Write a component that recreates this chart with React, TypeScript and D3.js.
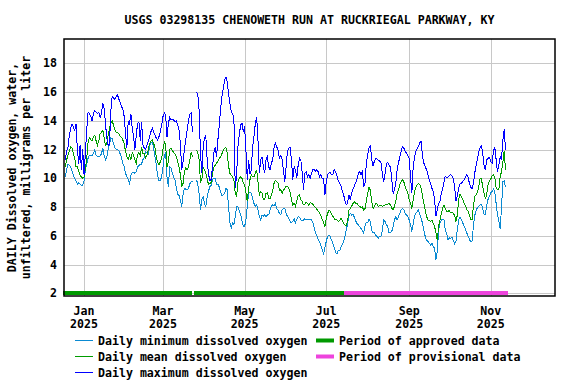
import React, { useEffect, useRef } from 'react';
import * as d3 from 'd3';

// Labels
const title = 'USGS 03298135 CHENOWETH RUN AT RUCKRIEGAL PARKWAY, KY';
const yTitle = ['DAILY Dissolved oxygen, water,', 'unfiltered, milligrams per liter'];

// Daily values, one per day starting at firstDay (null = no data)
const firstDay = '2024-12-18';

const dailyMin = [
  // Dec
  10.1, 10.6, 11.0, 10.9, 10.8, 10.5, 10.2, 10.0, 9.8, 9.6, 9.7, 9.6, 9.5, 9.5,
  // Jan
  9.85, 10.6, 11.0, 11.4, 11.6, 11.6, 11.6, 11.7, 12.0, 11.6, 11.5, 11.5, 11.55,
  11.7, 12.1, 11.55, 11.3, 11.5, 12.0, 12.4, 12.8, 12.75, 12.4, 12.15, 12.0, 12.0, 11.9, 11.7, 11.45, 11.0, 10.8,
  // Feb
  10.35, 10.1, 9.9, 9.65, 10.2, 10.4, 10.4, 10.35, 10.45, 10.8, 10.9, 10.95,
  11.0, 11.3, 11.45, 11.85, 11.8, 11.7, 12.2, 12.5, 12.5, 12.1, 11.5, 10.9, 10.2, 9.8, 9.85, 10.1,
  // Mar
  10.8, 11.6, 11.75, 10.1, 9.4, 10.8, 10.7, 10.35, 10.1, 9.85, 9.3, 8.9, 8.8, 8.5, 8.0, 8.85, 9.3, 9.25, 9.2, 9.3, 9.6, 9.75, 9.8,
  null, null,
  9.9, 9.6, 8.95, 7.8, 8.5, 8.75,
  // Apr
  8.25, 8.0, 8.7, 9.1, 9.4, 9.5, 9.9, 10.0, 10.0,
  9.55, 9.6, 9.4, 9.05, 8.8, 8.85, 8.95, 9.3, 9.2, 8.05, 6.9, 6.55, 6.9, 6.75, 7.35, 8.05, 8.05, 7.7, 7.5, 7.05, 6.65,
  // May
  6.65, 7.1, 8.05, 8.95, 9.05, 8.95, 8.6, 8.25, 8.05, 8.15, 7.8, 7.35, 7.1, 7.45, 7.35, 7.45, 7.35, 7.45, 7.45, 7.8,
  8.05, 8.15, 8.05, 8.25, 7.9, 7.8, 7.55, 7.45, 7.8, 7.9, 7.9,
  // Jun
  7.55, 7.35, 7.2, 7.0, 6.9,
  7.0, 7.2, 6.9, 7.15, 7.35, 7.3, 7.1, 7.05, 7.1, 7.2, 7.1, 7.1, 7.15, 7.1, 7.1, 6.9, 6.6, 6.2, 6.0, 5.75, 5.6, 5.3, 5.05, 4.7, 5.15,
  // Jul
  5.6, 5.95, 6.05, 5.95, 5.7, 5.45, 5.2, 4.85, 4.75, 5.0, 4.95, 5.2, 5.4, 5.6, 5.95, 6.4, 6.85, 7.4, 7.55, 7.45,
  7.5, 7.3, 7.05, 6.85, 6.75, 6.65, 6.5, 6.35, 6.2, 6.7, 6.95,
  // Aug
  6.9,
  7.15, 7.0, 6.4, 6.2, 6.2, 6.05, 5.95, 5.85, 5.95, 6.0, 6.4, 7.1, 7.0, 6.75, 6.65, 6.2, 6.2, 6.3, 6.65, 7.1,
  7.35, 7.1, 7.35, 7.55, 7.8, 7.9, 7.8, 7.55, 7.45, 7.35,
  // Sep
  7.1, 6.75, 6.3, 6.85, 7.35, 7.55, 7.7, 7.8, 7.45, 7.2, 6.85, 6.4, 5.95, 5.7, 5.6, 5.5, 5.35, 5.5, 5.25, 5.15,
  4.35, 4.9, 6.4, 6.85, 7.1, 7.15, 7.15, 6.35, 6.15, 5.7,
  // Oct
  5.85, 5.8, 5.9, 5.65, 5.45, 5.6, 6.45, 7.1, 7.3, 7.15, 6.9, 6.7, 6.45, 6.2, 6.0, 5.75, 5.6, 5.65, 6.65, 7.4,
  7.75, 7.95, 8.05, 8.15, 8.2, 7.85, 7.5, 7.5, 8.15, 8.55, 8.75,
  // Nov
  9.0, 9.1, 9.25, 9.05, 8.25, 7.5, 7.05, 6.5, 7.9, 9.75, 9.8, 9.4,
];

const dailyMean = [
  // Dec
  10.8, 11.3, 11.6, 11.9, 12.2, 12.1, 11.7, 11.4, 10.8, 10.8, 10.5, 10.2, 10.1, 10.0,
  // Jan
  10.1, 10.7, 11.4, 12.5, 12.8, 12.7, 12.6, 12.9, 13.0, 12.6, 12.3, 12.6, 13.1,
  13.2, 13.35, 12.8, 12.3, 12.4, 13.0, 13.5, 13.8, 14.0, 13.7, 13.4, 13.2, 13.2, 13.1, 12.9, 12.85, 12.65, 12.4,
  // Feb
  11.85, 11.5, 11.3, 11.6, 11.3, 11.8, 11.6, 11.3, 11.05, 11.65, 11.8, 11.6,
  12.15, 11.7, 11.7, 11.4, 11.6, 12.0, 12.4, 12.6, 12.65, 12.45, 12.1, 11.5, 11.1, 10.9, 11.15, 11.4,
  // Mar
  12.0, 12.55, 12.3, 10.8, 11.15, 12.0, 12.1, 11.9, 11.8, 11.7, 11.5, 11.15, 10.8, 10.25, 9.4, 9.65, 10.45, 10.7, 10.6, 10.8, 11.25, 11.8, 11.5,
  null, null,
  11.95, 11.8, 11.3, 9.75, 9.9, 10.75,
  // Apr
  10.6, 10.35, 10.0, 9.55, 9.65, 9.7, 10.35, 10.75, 10.9,
  11.05, 11.2, 11.35, 11.5, 11.7, 11.95, 12.1, 12.15, 11.75, 10.85, 10.35, 10.2, 10.1, 9.9, 8.95, 8.75, 9.75, 10.0, 10.1, 10.0, 9.7,
  // May
  9.55, 9.0, 8.4, 9.3, 9.9, 10.25, 10.1, 10.1, 10.35, 10.6, 9.75, 8.85, 9.05, 9.0, 8.5, 8.5, 8.95, 9.0, 8.6, 8.6,
  8.85, 9.15, 9.65, 9.85, 9.75, 9.65, 9.15, 9.2, 8.95, 9.15, 9.3,
  // Jun
  9.45, 9.45, 9.3, 9.05, 8.5,
  8.15, 8.25, 8.05, 8.4, 8.8, 8.85, 8.5, 8.4, 8.15, 8.2, 8.35, 8.25, 8.1, 8.3, 8.25, 8.2, 8.05, 7.95, 7.85, 7.7, 7.6, 7.4, 7.15, 6.9, 6.65,
  // Jul
  7.2, 7.55, 7.75, 7.7, 7.5, 7.35, 7.2, 7.1, 7.1, 7.0, 7.05, 7.2, 7.05, 6.85, 6.75, 6.7, 7.0, 7.8, 7.9, 8.05,
  8.25, 8.4, 8.25, 8.25, 8.1, 8.05, 7.95, 8.0, 7.8, 7.9, 8.45,
  // Aug
  8.9,
  9.4, 9.15, 8.4, 7.9, 8.05, 8.25, 8.2, 8.05, 8.1, 8.15, 8.05, 8.1, 8.15, 8.2, 8.2, 8.25, 8.15, 7.9, 7.8, 8.05,
  8.4, 8.95, 9.2, 9.55, 9.75, 9.9, 9.75, 9.4, 9.2, 8.95,
  // Sep
  8.5, 8.25, 7.9, 8.5, 9.05, 9.4, 9.55, 9.65, 9.55, 9.3, 8.75, 8.25, 7.8, 7.35, 7.1, 7.05, 7.0, 7.1, 6.85, 6.65,
  6.2, 5.7, 6.65, 7.1, 7.55, 7.9, 8.15, 7.9, 7.7, 7.7,
  // Oct
  7.75, 7.6, 7.65, 7.55, 7.4, 7.0, 7.45, 8.5, 8.9, 8.75, 8.55, 8.3, 8.1, 7.85, 7.7, 7.45, 7.15, 7.1, 8.05, 8.75,
  8.85, 9.0, 9.4, 9.95, 9.95, 9.4, 8.95, 8.55, 8.95, 9.55, 9.85,
  // Nov
  9.95, 10.15, 10.25, 10.05, 9.3, 9.25, 9.2, 10.1, 10.45, 11.05, 11.9, 10.6,
];

const dailyMax = [
  // Dec
  11.3, 11.9, 12.2, 13.0, 13.5, 13.8, 13.6, 13.3, 13.8, 12.0, 11.0, 12.3, 10.6, 12.0,
  // Jan
  10.2, 11.8, 13.4, 14.6, 14.5, 14.3, 14.0, 14.5, 14.7, 14.6, 14.5, 14.6, 14.2,
  14.5, 15.2, 14.85, 13.8, 12.8, 12.25, 12.4, 14.7, 15.7, 15.6, 15.5, 15.7, 15.8, 15.5, 15.3, 15.0, 14.8, 14.3,
  // Feb
  13.1, 12.1, 14.0, 13.8, 14.5, 13.5, 12.9, 12.0, 13.0, 13.8, 13.9, 12.6,
  13.9, 12.3, 12.1, 12.0, 12.3, 12.55, 12.9, 13.25, 13.5, 13.25, 13.0, 12.8, 12.65, 12.9, 13.25, 13.7,
  // Mar
  14.3, 14.55, 14.4, 12.9, 13.8, 14.25, 14.05, 14.1, 14.05, 13.95, 14.0, 13.7, 13.35, 12.4, 10.6, 11.15, 12.0, 12.7, 13.3, 13.95, 14.45, 14.55, 13.25,
  null, null,
  16.0, 15.8, 14.75, 11.75, 10.35, 12.15,
  // Apr
  12.8, 12.95, 11.3, 10.3, 9.85, 9.9, 10.8, 11.75, 12.15,
  11.5, 12.65, 13.6, 14.75, 15.65, 16.25, 16.8, 17.05, 16.7, 15.9, 15.2, 14.65, 14.5, 14.15, 9.3, 10.2, 12.2, 13.0, 13.7, 13.85, 13.25,
  // May
  13.6, 11.95, 9.9, 11.3, 10.3, 10.6, 12.2, 12.9, 13.8, 14.25, 12.65, 10.35, 11.25, 11.5, 10.8, 10.35, 11.3, 11.5, 10.8, 10.6,
  11.05, 11.3, 12.1, 12.45, 12.2, 11.95, 11.4, 11.6, 11.3, 10.6, 9.75,
  // Jun
  10.8, 11.85, 12.1, 12.15, 11.3,
  9.9, 10.8, 10.6, 10.0, 10.9, 11.4, 11.3, 10.45, 9.2, 10.35, 10.45, 10.1, 10.25, 10.0, 10.35, 10.6, 10.6, 10.5, 10.6, 10.45, 10.1, 10.25, 9.95, 10.0, 8.85,
  // Jul
  9.75, 10.25, 10.35, 10.4, 10.25, 10.25, 10.6, 10.45, 10.15, 9.85, 9.65, 9.45, 9.15, 8.85, 8.45, 8.15, 8.3, 8.85, 8.5, 8.95,
  9.25, 9.45, 9.7, 9.95, 10.35, 10.45, 10.25, 10.45, 9.4, 9.65, 11.05,
  // Aug
  11.6,
  12.15, 12.25, 11.3, 10.85, 11.2, 11.35, 11.35, 11.25, 11.2, 11.05, 10.25, 9.75, 10.35, 11.0, 11.1, 10.9, 10.8, 9.9, 8.95, 9.2,
  9.65, 10.6, 11.05, 11.5, 11.85, 12.2, 12.1, 11.85, 11.75, 11.6,
  // Sep
  11.4, 10.1, 8.95, 10.8, 11.5, 11.85, 12.1, 12.2, 12.5, 12.55, 11.5, 11.05, 10.8, 10.6, 10.25, 9.9, 9.65, 9.3, 9.05, 8.5,
  7.35, 7.8, 8.25, 8.4, 8.95, 9.2, 9.75, 10.15, 10.05, 10.1,
  // Oct
  10.2, 10.25, 10.15, 10.0, 9.4, 8.4, 8.8, 9.3, 9.6, 9.65, 9.75, 9.9, 10.05, 10.25, 10.1, 9.65, 9.4, 9.25, 9.6, 10.35,
  10.9, 11.35, 11.8, 12.15, 12.25, 11.75, 10.85, 10.6, 11.3, 11.4, 11.45,
  // Nov
  11.15, 11.05, 11.9, 12.15, 11.3, 10.45, 10.9, 11.5, 11.25, 12.65, 13.4, 12.0,
];

// Axes
const xDomain = ['2024-12-17', '2025-12-19'];
const xTicks = ['2025-01-01', '2025-03-01', '2025-05-01', '2025-07-01', '2025-09-01', '2025-11-01'];
const yTicks = [2, 4, 6, 8, 10, 12, 14, 16, 18];

// Data-approval periods
const approvedPeriods = [
  ['2024-12-16', '2025-03-23'],
  ['2025-03-24', '2025-07-14'],
];
const provisionalPeriods = [['2025-07-14', '2025-11-14']];

const colors = {
  min: '#0a8ad2',
  mean: '#009c00',
  max: '#0000ff',
  approved: '#009900',
  provisional: '#ee44dd',
  grid: '#c8c8c8',
};

const lineLegend = [
  { label: 'Daily minimum dissolved oxygen', color: colors.min },
  { label: 'Daily mean dissolved oxygen', color: colors.mean },
  { label: 'Daily maximum dissolved oxygen', color: colors.max },
];
const periodLegend = [
  { label: 'Period of approved data', color: colors.approved },
  { label: 'Period of provisional data', color: colors.provisional },
];

const font = "'DejaVu Sans Mono', 'Liberation Mono', monospace";

const App = () => {
  const ref = useRef<SVGSVGElement | null>(null);

  useEffect(() => {
    const svg = d3.select(ref.current);
    svg.selectAll('*').remove();

    const left = 64, right = 555, top = 39, bottom = 296;
    const parse = d3.timeParse('%Y-%m-%d') as (s: string) => Date;

    const x = d3.scaleTime().domain(xDomain.map(parse)).range([left, right]);
    const y = d3.scaleLinear().domain([1.81, 19.69]).range([bottom, top]);

    const start = parse(firstDay);
    const dates = dailyMax.map((_, i) => d3.timeDay.offset(start, i));

    svg.append('rect').attr('width', 576).attr('height', 384).attr('fill', '#fff');

    const g = svg.append('g').style('font-family', font).style('font-weight', 'bold').style('font-size', '11.6px');

    // title
    g.append('text')
      .attr('x', (left + right) / 2)
      .attr('y', 24)
      .attr('text-anchor', 'middle')
      .text(title);

    // grid
    const grid = g.append('g').attr('stroke', colors.grid).attr('stroke-width', 1).attr('shape-rendering', 'crispEdges');
    grid.selectAll('.h')
      .data(yTicks)
      .enter()
      .append('line')
      .attr('x1', left)
      .attr('x2', right)
      .attr('y1', d => Math.round(y(d)) + 0.5)
      .attr('y2', d => Math.round(y(d)) + 0.5);
    grid.selectAll('.v')
      .data(xTicks)
      .enter()
      .append('line')
      .attr('x1', d => Math.round(x(parse(d))) + 0.5)
      .attr('x2', d => Math.round(x(parse(d))) + 0.5)
      .attr('y1', top)
      .attr('y2', bottom);

    // y tick labels
    g.selectAll('.ytick')
      .data(yTicks)
      .enter()
      .append('text')
      .attr('x', 57)
      .attr('y', d => y(d) + 4)
      .attr('text-anchor', 'end')
      .text(d => d);

    // x tick labels
    const fmtMonth = d3.timeFormat('%b');
    const fmtYear = d3.timeFormat('%Y');
    const xt = g.selectAll('.xtick').data(xTicks).enter().append('g');
    xt.append('text')
      .attr('x', d => x(parse(d)))
      .attr('y', 315)
      .attr('text-anchor', 'middle')
      .text(d => fmtMonth(parse(d)));
    xt.append('text')
      .attr('x', d => x(parse(d)))
      .attr('y', 327.5)
      .attr('text-anchor', 'middle')
      .text(d => fmtYear(parse(d)));

    // y axis title
    yTitle.forEach((t, i) => {
      g.append('text')
        .attr('transform', `translate(${16 + i * 13.5},${(top + bottom) / 2}) rotate(-90)`)
        .attr('text-anchor', 'middle')
        .text(t);
    });

    // data lines
    const series = [
      { values: dailyMin, color: colors.min },
      { values: dailyMean, color: colors.mean },
      { values: dailyMax, color: colors.max },
    ];
    const line = d3
      .line<number | null>()
      .defined(v => v != null)
      .x((_, i) => x(dates[i]))
      .y(v => y(v as number));
    series.forEach(s => {
      g.append('path')
        .datum(s.values)
        .attr('fill', 'none')
        .attr('stroke', s.color)
        .attr('stroke-width', 1)
        .attr('shape-rendering', 'crispEdges')
        .attr('d', line);
    });

    // approval period bars
    const periods = [
      ...approvedPeriods.map(p => ({ p, color: colors.approved })),
      ...provisionalPeriods.map(p => ({ p, color: colors.provisional })),
    ];
    g.selectAll('.period')
      .data(periods)
      .enter()
      .append('rect')
      .attr('x', d => x(parse(d.p[0])))
      .attr('width', d => x(parse(d.p[1])) - x(parse(d.p[0])))
      .attr('y', y(2) - 2)
      .attr('height', 4)
      .attr('fill', d => d.color)
      .attr('shape-rendering', 'crispEdges');

    // frame
    g.append('rect')
      .attr('x', left)
      .attr('y', top)
      .attr('width', right - left)
      .attr('height', bottom - top)
      .attr('fill', 'none')
      .attr('stroke', '#000')
      .attr('stroke-width', 1.5);

    // legend
    const lg = g.append('g');
    lineLegend.forEach((d, i) => {
      const ly = 340 + i * 16;
      lg.append('line')
        .attr('x1', 75)
        .attr('x2', 93)
        .attr('y1', ly + 0.5)
        .attr('y2', ly + 0.5)
        .attr('stroke', d.color)
        .attr('stroke-width', 1)
        .attr('shape-rendering', 'crispEdges');
      lg.append('text').attr('x', 98).attr('y', ly + 4.5).text(d.label);
    });
    periodLegend.forEach((d, i) => {
      const ly = 340 + i * 16;
      lg.append('rect')
        .attr('x', 316)
        .attr('y', ly - 1.5)
        .attr('width', 18)
        .attr('height', 4)
        .attr('fill', d.color);
      lg.append('text').attr('x', 339).attr('y', ly + 4.5).text(d.label);
    });
  }, []);

  return (
    <svg
      ref={ref}
      width={576}
      height={384}
      style={{ position: 'absolute', left: 0, top: 0 }}
    />
  );
};

export default App;
